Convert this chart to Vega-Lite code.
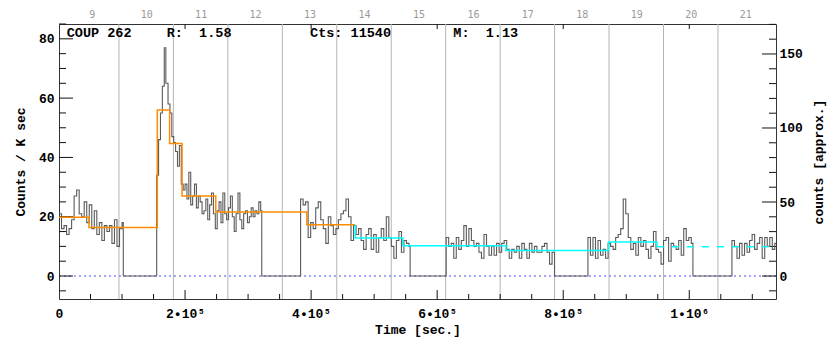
{
  "$schema": "https://vega.github.io/schema/vega-lite/v6.json",
  "width": 717,
  "height": 275,
  "autosize": {"type": "none"},
  "padding": {"left": 59, "top": 24, "right": 54, "bottom": 40},
  "background": "white",
  "config": {
    "view": {"stroke": "#333333", "strokeWidth": 1},
    "axis": {
      "domain": false,
      "grid": false,
      "ticks": false,
      "labelFont": "Liberation Mono",
      "labelFontWeight": "bold",
      "labelFontSize": 13,
      "labelColor": "#000000",
      "titleFont": "Liberation Mono",
      "titleFontWeight": "bold",
      "titleFontSize": 13,
      "titleColor": "#000000",
      "labelFlush": false,
      "labelOverlap": false
    }
  },
  "datasets": {
    "days": [{"d": 9.5}, {"d": 10.5}, {"d": 11.5}, {"d": 12.5}, {"d": 13.5}, {"d": 14.5}, {"d": 15.5}, {"d": 16.5}, {"d": 17.5}, {"d": 18.5}, {"d": 19.5}, {"d": 20.5}],
    "lc": [
      {"t": 0, "v": 21}, {"t": 4000, "v": 16}, {"t": 8000, "v": 17}, {"t": 12000, "v": 14}, {"t": 16000, "v": 16}, {"t": 20000, "v": 19}, {"t": 24000, "v": 27}, {"t": 28000, "v": 29}, {"t": 32000, "v": 21}, {"t": 36000, "v": 20}, {"t": 40000, "v": 25}, {"t": 44000, "v": 18}, {"t": 48000, "v": 24}, {"t": 52000, "v": 16}, {"t": 56000, "v": 22}, {"t": 60000, "v": 14}, {"t": 64000, "v": 18}, {"t": 68000, "v": 12}, {"t": 72000, "v": 17}, {"t": 76000, "v": 15}, {"t": 80000, "v": 17}, {"t": 84000, "v": 11}, {"t": 88000, "v": 19}, {"t": 92000, "v": 10}, {"t": 96000, "v": 16}, {"t": 100000, "v": 18}, {"t": 102000, "v": 0},
      {"t": 155000, "v": 34}, {"t": 158000, "v": 46}, {"t": 161000, "v": 55}, {"t": 164000, "v": 64}, {"t": 167000, "v": 77}, {"t": 169500, "v": 65}, {"t": 173000, "v": 58}, {"t": 176000, "v": 55}, {"t": 179000, "v": 47}, {"t": 182000, "v": 45}, {"t": 185000, "v": 42}, {"t": 188000, "v": 37}, {"t": 191000, "v": 44}, {"t": 194000, "v": 31}, {"t": 197000, "v": 29}, {"t": 200000, "v": 31}, {"t": 203000, "v": 26}, {"t": 206000, "v": 35}, {"t": 209000, "v": 24}, {"t": 212000, "v": 27}, {"t": 215000, "v": 31}, {"t": 218000, "v": 23}, {"t": 221000, "v": 27}, {"t": 224000, "v": 25}, {"t": 227000, "v": 21}, {"t": 230000, "v": 22}, {"t": 233000, "v": 26}, {"t": 236000, "v": 19}, {"t": 239000, "v": 24}, {"t": 242000, "v": 28}, {"t": 245000, "v": 21}, {"t": 248000, "v": 16}, {"t": 251000, "v": 22}, {"t": 254000, "v": 25}, {"t": 257000, "v": 18}, {"t": 260000, "v": 28}, {"t": 263000, "v": 21}, {"t": 266000, "v": 19}, {"t": 269000, "v": 23}, {"t": 272000, "v": 27}, {"t": 275000, "v": 20}, {"t": 278000, "v": 15}, {"t": 281000, "v": 21}, {"t": 284000, "v": 28}, {"t": 287000, "v": 19}, {"t": 290000, "v": 16}, {"t": 293000, "v": 21}, {"t": 296000, "v": 22}, {"t": 299000, "v": 18}, {"t": 302000, "v": 20}, {"t": 305000, "v": 23}, {"t": 308000, "v": 20}, {"t": 311000, "v": 22}, {"t": 314000, "v": 21}, {"t": 317000, "v": 25}, {"t": 320000, "v": 22}, {"t": 321700, "v": 0},
      {"t": 383300, "v": 26}, {"t": 387300, "v": 24}, {"t": 391300, "v": 25}, {"t": 395300, "v": 13}, {"t": 399300, "v": 18}, {"t": 403300, "v": 16}, {"t": 407300, "v": 23}, {"t": 411300, "v": 25}, {"t": 415300, "v": 19}, {"t": 419300, "v": 16}, {"t": 423300, "v": 11}, {"t": 427300, "v": 20}, {"t": 431300, "v": 17}, {"t": 435300, "v": 14}, {"t": 439300, "v": 16}, {"t": 443300, "v": 19}, {"t": 447300, "v": 21}, {"t": 451300, "v": 22}, {"t": 455300, "v": 26}, {"t": 459300, "v": 20}, {"t": 463300, "v": 12}, {"t": 467300, "v": 17}, {"t": 471300, "v": 14}, {"t": 475300, "v": 16}, {"t": 479300, "v": 12}, {"t": 483300, "v": 9}, {"t": 487300, "v": 14}, {"t": 491300, "v": 16}, {"t": 495300, "v": 9}, {"t": 499300, "v": 14}, {"t": 503300, "v": 8}, {"t": 507300, "v": 13}, {"t": 511300, "v": 16}, {"t": 515300, "v": 12}, {"t": 519300, "v": 20}, {"t": 523300, "v": 13}, {"t": 527300, "v": 10}, {"t": 531300, "v": 6}, {"t": 535300, "v": 12}, {"t": 539300, "v": 15}, {"t": 543300, "v": 8}, {"t": 547300, "v": 12}, {"t": 551300, "v": 11}, {"t": 555300, "v": 10}, {"t": 557100, "v": 0},
      {"t": 614300, "v": 13}, {"t": 618300, "v": 10}, {"t": 622300, "v": 11}, {"t": 626300, "v": 6}, {"t": 630300, "v": 13}, {"t": 634300, "v": 9}, {"t": 638300, "v": 12}, {"t": 642300, "v": 17}, {"t": 646300, "v": 10}, {"t": 650300, "v": 16}, {"t": 654300, "v": 12}, {"t": 658300, "v": 10}, {"t": 662300, "v": 11}, {"t": 666300, "v": 8}, {"t": 670300, "v": 6}, {"t": 674300, "v": 14}, {"t": 678300, "v": 10}, {"t": 682300, "v": 7}, {"t": 686300, "v": 10}, {"t": 690300, "v": 7}, {"t": 694300, "v": 11}, {"t": 698300, "v": 8}, {"t": 702300, "v": 11}, {"t": 706300, "v": 12}, {"t": 710300, "v": 9}, {"t": 714300, "v": 6}, {"t": 718300, "v": 9}, {"t": 722300, "v": 8}, {"t": 726300, "v": 10}, {"t": 730300, "v": 6}, {"t": 734300, "v": 11}, {"t": 738300, "v": 9}, {"t": 742300, "v": 6}, {"t": 746300, "v": 11}, {"t": 750300, "v": 8}, {"t": 754300, "v": 10}, {"t": 758300, "v": 8}, {"t": 762300, "v": 8}, {"t": 766300, "v": 10}, {"t": 770300, "v": 11}, {"t": 774300, "v": 8}, {"t": 778300, "v": 4}, {"t": 782300, "v": 8}, {"t": 786200, "v": 0},
      {"t": 839200, "v": 13}, {"t": 843200, "v": 7}, {"t": 847200, "v": 13}, {"t": 851200, "v": 6}, {"t": 855200, "v": 12}, {"t": 859200, "v": 7}, {"t": 863200, "v": 9}, {"t": 867200, "v": 6}, {"t": 871200, "v": 11}, {"t": 875200, "v": 10}, {"t": 879200, "v": 9}, {"t": 883200, "v": 13}, {"t": 887200, "v": 14}, {"t": 891200, "v": 16}, {"t": 895200, "v": 26}, {"t": 899200, "v": 21}, {"t": 903200, "v": 13}, {"t": 907200, "v": 9}, {"t": 911200, "v": 11}, {"t": 915200, "v": 7}, {"t": 919200, "v": 13}, {"t": 923200, "v": 10}, {"t": 927200, "v": 12}, {"t": 931200, "v": 9}, {"t": 935200, "v": 6}, {"t": 939200, "v": 10}, {"t": 943200, "v": 15}, {"t": 947200, "v": 9}, {"t": 951200, "v": 8}, {"t": 955200, "v": 4}, {"t": 959200, "v": 12}, {"t": 963200, "v": 13}, {"t": 967200, "v": 5}, {"t": 971200, "v": 11}, {"t": 975200, "v": 10}, {"t": 979200, "v": 9}, {"t": 983200, "v": 12}, {"t": 987200, "v": 7}, {"t": 991200, "v": 16}, {"t": 995200, "v": 12}, {"t": 999200, "v": 13}, {"t": 1003200, "v": 11}, {"t": 1005800, "v": 0},
      {"t": 1067700, "v": 12}, {"t": 1071700, "v": 10}, {"t": 1075700, "v": 6}, {"t": 1079700, "v": 11}, {"t": 1083700, "v": 7}, {"t": 1087700, "v": 11}, {"t": 1091700, "v": 8}, {"t": 1095700, "v": 12}, {"t": 1099700, "v": 14}, {"t": 1103700, "v": 9}, {"t": 1107700, "v": 11}, {"t": 1111700, "v": 13}, {"t": 1115700, "v": 6}, {"t": 1119700, "v": 13}, {"t": 1123700, "v": 10}, {"t": 1127700, "v": 13}, {"t": 1131700, "v": 9}, {"t": 1135700, "v": 11}, {"t": 1137600, "v": 11}
    ],
    "orange": [
      {"o": 1, "t": 0, "v": 19.8}, {"o": 2, "t": 47500, "v": 16.4}, {"o": 3, "t": 156000, "v": 56.0}, {"o": 4, "t": 175500, "v": 44.7}, {"o": 5, "t": 195300, "v": 27.0}, {"o": 6, "t": 248700, "v": 21.6}, {"o": 7, "t": 393200, "v": 17.3}, {"o": 8, "t": 469900, "v": 17.3}
    ],
    "cyan": [
      {"o": 1, "t": 469900, "v": 17.3}, {"o": 2, "t": 469900, "v": 12.8}, {"o": 3, "t": 545500, "v": 10.2}, {"o": 4, "t": 709000, "v": 8.6}, {"o": 5, "t": 871900, "v": 11.5}, {"o": 6, "t": 948600, "v": 9.9}
    ],
    "cyandash": [
      {"o": 1, "t": 948600, "v": 9.9}, {"o": 2, "t": 1137600, "v": 9.9}
    ],
    "labels": [
      {"t": 12220, "v": 80.45, "s": "COUP 262"},
      {"t": 170900, "v": 80.45, "s": "R:\u00a0\u00a01.58"},
      {"t": 398300, "v": 80.45, "s": "Cts: 11540"},
      {"t": 625700, "v": 80.45, "s": "M:\u00a0\u00a01.13"}
    ],
    "ymaj": [{"v": 0}, {"v": 20}, {"v": 40}, {"v": 60}, {"v": 80}],
    "ymin": [{"v": -5}, {"v": 5}, {"v": 10}, {"v": 15}, {"v": 25}, {"v": 30}, {"v": 35}, {"v": 45}, {"v": 50}, {"v": 55}, {"v": 65}, {"v": 70}, {"v": 75}, {"v": 85}],
    "cmaj": [{"c": 0}, {"c": 50}, {"c": 100}, {"c": 150}],
    "cmin": [{"c": -10}, {"c": 10}, {"c": 20}, {"c": 30}, {"c": 40}, {"c": 60}, {"c": 70}, {"c": 80}, {"c": 90}, {"c": 110}, {"c": 120}, {"c": 130}, {"c": 140}, {"c": 160}, {"c": 170}],
    "xmaj": [{"t": 200000}, {"t": 400000}, {"t": 600000}, {"t": 800000}, {"t": 1000000}],
    "xmin": [{"t": 50000}, {"t": 100000}, {"t": 150000}, {"t": 250000}, {"t": 300000}, {"t": 350000}, {"t": 450000}, {"t": 500000}, {"t": 550000}, {"t": 650000}, {"t": 700000}, {"t": 750000}, {"t": 850000}, {"t": 900000}, {"t": 950000}, {"t": 1050000}, {"t": 1100000}]
  },
  "resolve": {
    "scale": {"x": "independent", "y": "independent"},
    "axis": {"x": "independent", "y": "independent"}
  },
  "layer": [
    {
      "data": {"name": "days"},
      "mark": {"type": "rule", "color": "#b4b4b4", "strokeWidth": 1},
      "encoding": {
        "x": {
          "field": "d", "type": "quantitative",
          "scale": {"domain": [8.3992, 21.5659], "nice": false, "zero": false},
          "axis": {"orient": "top", "values": [9, 10, 11, 12, 13, 14, 15, 16, 17, 18, 19, 20, 21], "labelColor": "#999999", "labelFont": "DejaVu Sans Mono", "labelFontWeight": "normal", "labelFontSize": 10, "labelPadding": 5, "title": null}
        }
      }
    },
    {
      "data": {"values": [{}]},
      "mark": {"type": "rule", "color": "#4b4bff", "strokeDash": [2, 3], "strokeWidth": 1},
      "encoding": {
        "y": {
          "datum": 0, "type": "quantitative",
          "scale": {"domain": [-15.52, 170.25], "nice": false, "zero": false},
          "axis": {"orient": "right", "values": [0, 50, 100, 150], "labelPadding": 3, "title": "counts [approx.]", "titleAngle": 270, "titleBaseline": "top", "titlePadding": 10}
        }
      }
    },
    {
      "data": {"name": "cmaj"},
      "mark": {"type": "rule", "color": "#111111", "strokeWidth": 1},
      "encoding": {
        "x": {"datum": 1115400, "type": "quantitative", "scale": {"domain": [0, 1137600], "nice": false, "zero": false}, "axis": null},
        "x2": {"datum": 1137600},
        "y": {"field": "c", "type": "quantitative", "scale": {"domain": [-15.52, 170.25], "nice": false, "zero": false}, "axis": null}
      }
    },
    {
      "data": {"name": "cmin"},
      "mark": {"type": "rule", "color": "#111111", "strokeWidth": 1},
      "encoding": {
        "x": {"datum": 1126500, "type": "quantitative", "scale": {"domain": [0, 1137600], "nice": false, "zero": false}, "axis": null},
        "x2": {"datum": 1137600},
        "y": {"field": "c", "type": "quantitative", "scale": {"domain": [-15.52, 170.25], "nice": false, "zero": false}, "axis": null}
      }
    },
    {
      "data": {"name": "lc"},
      "mark": {"type": "line", "interpolate": "step-after", "color": "#5a5a5a", "strokeWidth": 1.1},
      "encoding": {
        "x": {
          "field": "t", "type": "quantitative",
          "scale": {"domain": [0, 1137600], "nice": false, "zero": false},
          "axis": {"orient": "bottom", "values": [0, 200000, 400000, 600000, 800000, 1000000], "labelPadding": 8, "labelExpr": "datum.value == 0 ? '0' : datum.value == 1000000 ? '1•10⁶' : format(datum.value / 100000, 'd') + '•10⁵'", "title": "Time [sec.]", "titlePadding": 3}
        },
        "y": {
          "field": "v", "type": "quantitative",
          "scale": {"domain": [-7.75, 85], "nice": false, "zero": false},
          "axis": {"orient": "left", "values": [0, 20, 40, 60, 80], "labelPadding": 5, "title": "Counts / K sec", "titlePadding": 11}
        }
      }
    },
    {
      "data": {"name": "ymaj"},
      "mark": {"type": "rule", "color": "#111111", "strokeWidth": 1},
      "encoding": {
        "x": {"datum": 0, "type": "quantitative", "scale": {"domain": [0, 1137600], "nice": false, "zero": false}, "axis": null},
        "x2": {"datum": 22200},
        "y": {"field": "v", "type": "quantitative", "scale": {"domain": [-7.75, 85], "nice": false, "zero": false}, "axis": null}
      }
    },
    {
      "data": {"name": "ymin"},
      "mark": {"type": "rule", "color": "#111111", "strokeWidth": 1},
      "encoding": {
        "x": {"datum": 0, "type": "quantitative", "scale": {"domain": [0, 1137600], "nice": false, "zero": false}, "axis": null},
        "x2": {"datum": 11100},
        "y": {"field": "v", "type": "quantitative", "scale": {"domain": [-7.75, 85], "nice": false, "zero": false}, "axis": null}
      }
    },
    {
      "data": {"name": "xmaj"},
      "mark": {"type": "rule", "color": "#111111", "strokeWidth": 1},
      "encoding": {
        "x": {"field": "t", "type": "quantitative", "scale": {"domain": [0, 1137600], "nice": false, "zero": false}, "axis": null},
        "y": {"datum": -7.75, "type": "quantitative", "scale": {"domain": [-7.75, 85], "nice": false, "zero": false}, "axis": null},
        "y2": {"datum": -4.72}
      }
    },
    {
      "data": {"name": "xmin"},
      "mark": {"type": "rule", "color": "#111111", "strokeWidth": 1},
      "encoding": {
        "x": {"field": "t", "type": "quantitative", "scale": {"domain": [0, 1137600], "nice": false, "zero": false}, "axis": null},
        "y": {"datum": -7.75, "type": "quantitative", "scale": {"domain": [-7.75, 85], "nice": false, "zero": false}, "axis": null},
        "y2": {"datum": -6.06}
      }
    },
    {
      "data": {"name": "xmaj"},
      "mark": {"type": "rule", "color": "#111111", "strokeWidth": 1},
      "encoding": {
        "x": {"field": "t", "type": "quantitative", "scale": {"domain": [0, 1137600], "nice": false, "zero": false}, "axis": null},
        "y": {"datum": 85, "type": "quantitative", "scale": {"domain": [-7.75, 85], "nice": false, "zero": false}, "axis": null},
        "y2": {"datum": 83.3}
      }
    },
    {
      "data": {"name": "orange"},
      "mark": {"type": "line", "interpolate": "step-after", "color": "#ff8c00", "strokeWidth": 1.5},
      "encoding": {
        "order": {"field": "o", "type": "quantitative"},
        "x": {"field": "t", "type": "quantitative", "scale": {"domain": [0, 1137600], "nice": false, "zero": false}, "axis": null},
        "y": {"field": "v", "type": "quantitative", "scale": {"domain": [-7.75, 85], "nice": false, "zero": false}, "axis": null}
      }
    },
    {
      "data": {"name": "cyan"},
      "mark": {"type": "line", "interpolate": "step-after", "color": "#00ffff", "strokeWidth": 1.5},
      "encoding": {
        "order": {"field": "o", "type": "quantitative"},
        "x": {"field": "t", "type": "quantitative", "scale": {"domain": [0, 1137600], "nice": false, "zero": false}, "axis": null},
        "y": {"field": "v", "type": "quantitative", "scale": {"domain": [-7.75, 85], "nice": false, "zero": false}, "axis": null}
      }
    },
    {
      "data": {"name": "cyandash"},
      "mark": {"type": "line", "color": "#00ffff", "strokeWidth": 1.5, "strokeDash": [7, 8]},
      "encoding": {
        "order": {"field": "o", "type": "quantitative"},
        "x": {"field": "t", "type": "quantitative", "scale": {"domain": [0, 1137600], "nice": false, "zero": false}, "axis": null},
        "y": {"field": "v", "type": "quantitative", "scale": {"domain": [-7.75, 85], "nice": false, "zero": false}, "axis": null}
      }
    },
    {
      "data": {"name": "labels"},
      "mark": {"type": "text", "align": "left", "baseline": "alphabetic", "font": "Liberation Mono", "fontWeight": "bold", "fontSize": 13.5, "color": "#000000"},
      "encoding": {
        "x": {"field": "t", "type": "quantitative", "scale": {"domain": [0, 1137600], "nice": false, "zero": false}, "axis": null},
        "y": {"field": "v", "type": "quantitative", "scale": {"domain": [-7.75, 85], "nice": false, "zero": false}, "axis": null},
        "text": {"field": "s"}
      }
    }
  ]
}
